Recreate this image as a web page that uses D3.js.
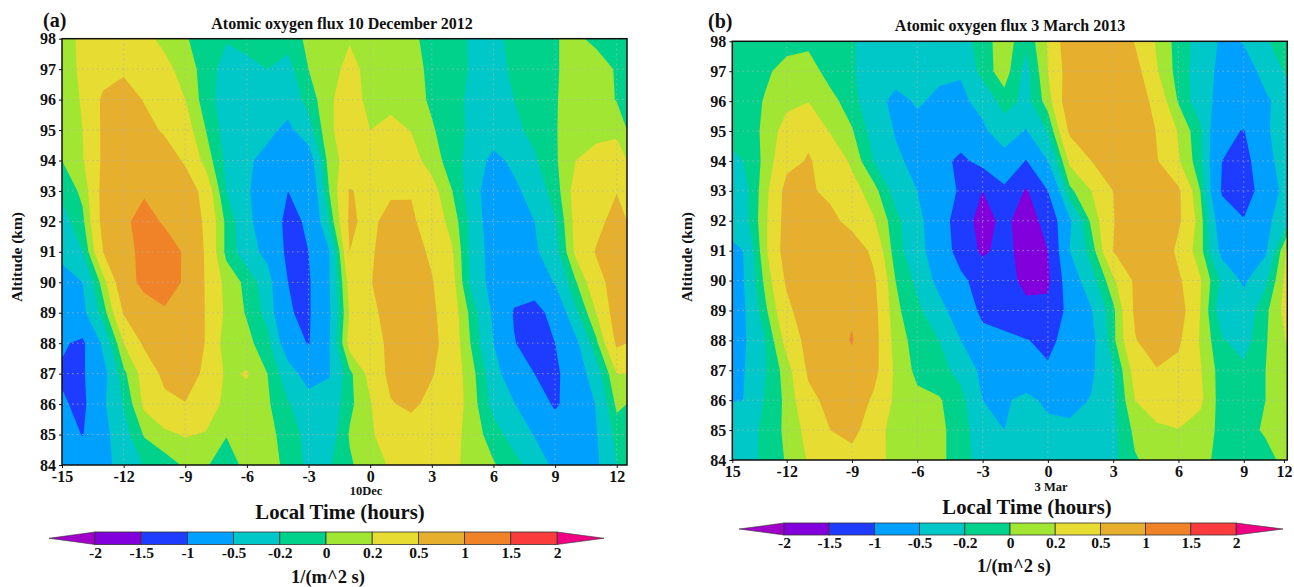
<!DOCTYPE html>
<html>
<head>
<meta charset="utf-8">
<script src="https://cdn.jsdelivr.net/npm/d3@7"></script>
<style>
  html, body { margin: 0; background: #fff; }
  svg { display: block; }
  text { font-family: "Liberation Serif", serif; font-weight: bold; fill: #111; }
  .axis path, .axis line { stroke: #111; }
  .grid line { stroke: #b4b4b4; stroke-width: 1; stroke-dasharray: 1.5 3.5; opacity: .75; }
</style>
</head>
<body>
<svg width="1294" height="587"></svg>
<script>
var levels = [-2, -1.5, -1, -0.5, -0.2, 0, 0.2, 0.5, 1, 1.5, 2];
var levelLabels = ["-2", "-1.5", "-1", "-0.5", "-0.2", "0", "0.2", "0.5", "1", "1.5", "2"];
// below -2, the 10 bands, above 2
var bandColors = ["#a000c8", "#8200dc", "#1e3cff", "#00a0ff", "#00c8c8", "#00d28c", "#a0e632", "#e6dc32", "#e6af2d", "#f08228", "#fa3c3c", "#f00082"];
var altitudes = [84, 85, 86, 87, 88, 89, 90, 91, 92, 93, 94, 95, 96, 97, 98];

// panel a, one row per altitude, one value per hour from -15 to 12
var hoursA = d3.range(-15, 13);
var a84 = [-.7,-.75,-.58,-.4,-.18,-.1,.03,.02,-.1,.06,.08,-.05,-.25,-.22,-.03,.12,.22,.3,.32,.25,.12,.02,-.12,-.3,-.58,-.7,-.55,-.2];
var a85 = [-.75,-1.02,-.6,-.3,.02,.15,.22,.18,.01,.1,.06,-.08,-.28,-.33,.02,.18,.28,.35,.38,.28,.1,-.1,-.3,-.52,-.8,-.8,-.52,-.12];
var a86 = [-.95,-1.1,-.55,-.18,.25,.42,.49,.38,.12,.12,.03,-.18,-.35,-.38,-.05,.18,.48,.56,.42,.35,.08,-.28,-.48,-.8,-1.05,-.82,-.48,.05];
var a87 = [-1.05,-1.05,-.62,-.05,.3,.58,.62,.45,.16,.22,0,-.35,-.65,-.52,-.05,.28,.58,.68,.52,.35,.05,-.35,-.75,-1,-1.1,-.7,-.32,.2];
var a88 = [-.95,-1.08,-.42,.2,.55,.8,.82,.48,.08,.06,-.12,-.72,-1.03,-.52,.3,.4,.55,.72,.58,.35,-.05,-.5,-.98,-1.18,-1,-.58,-.05,.55];
var a89 = [-.7,-.58,-.1,.52,.72,.92,.85,.48,.15,-.02,-.28,-.98,-1.05,-.55,.22,.42,.62,.75,.55,.33,-.1,-.55,-1.03,-1.2,-.8,-.25,.2,.65];
var a90 = [-.62,-.5,.1,.75,1.15,1.3,.92,.47,.12,-.05,-.35,-1,-1.05,-.52,.3,.48,.7,.72,.52,.28,-.3,-.62,-.85,-.7,-.48,-.02,.4,.62];
var a91 = [-.42,-.2,.5,.85,1.12,1.2,.95,.45,-.05,-.35,-.6,-1.1,-1,-.52,.5,.45,.68,.62,.45,.22,-.3,-.65,-.68,-.55,-.3,.25,.52,.68];
var a92 = [-.3,-.05,.6,.92,1.15,.95,.72,.45,-.05,-.4,-.75,-1.1,-.95,-.15,.55,.42,.62,.55,.35,.12,-.3,-.72,-.68,-.5,-.22,.28,.42,.6];
var a93 = [-.15,.05,.6,.9,.95,.9,.7,.38,-.2,-.45,-.75,-1,-.85,0,.52,.42,.45,.48,.3,0,-.35,-.75,-.58,-.35,-.1,.3,.4,.49];
var a94 = [0,.18,.55,.8,.85,.7,.45,.12,-.25,-.45,-.6,-.7,-.7,.1,.3,.4,.42,.3,.1,-.1,-.3,-.6,-.42,-.23,-.03,.2,.3,.35];
var a95 = [.1,.2,.55,.7,.62,.45,.32,0,-.3,-.38,-.42,-.58,-.3,.17,.3,.2,.28,.19,.02,-.1,-.26,-.32,-.25,-.14,-.01,.08,.12,.14];
var a96 = [.08,.22,.55,.65,.48,.33,.2,-.1,-.32,-.38,-.4,-.35,-.12,.17,.3,.14,.12,.08,-.03,-.12,-.26,-.3,-.2,-.1,-.01,.06,.1,-.01];
var a97 = [.08,.25,.38,.45,.42,.28,.1,-.08,-.3,-.25,-.2,-.28,0,.1,.28,.12,.12,.08,-.05,-.12,-.225,-.26,-.17,-.12,-.02,.08,.1,-.02];
var a98 = [.08,.26,.32,.32,.28,.13,.02,-.1,-.18,-.14,-.1,-.12,.05,.1,.18,.12,.1,.05,-.08,-.15,-.22,-.25,-.15,-.1,-.01,.04,-.05,-.03];

// panel b, one value per hour from -15 to 11
var hoursB = d3.range(-15, 12);
var b84 = [-.32,-.3,-.15,.02,.22,.32,.38,.3,.12,.1,.05,-.1,-.3,-.33,-.33,-.35,-.35,-.3,-.25,-.02,.08,.1,.05,-.05,-.1,-.08,.08];
var b85 = [-.35,-.32,-.15,.05,.28,.5,.6,.32,.1,.08,.05,-.1,-.35,-.5,-.38,-.4,-.42,-.4,-.25,.05,.15,.19,.1,-.05,-.08,.03,.12];
var b86 = [-.52,-.5,-.18,.05,.42,.58,.7,.45,.15,.05,.02,-.12,-.5,-.55,-.4,-.58,-.62,-.48,-.25,.2,.35,.4,.25,-.1,-.12,0,.1];
var b87 = [-.62,-.52,-.22,.1,.55,.75,.85,.6,.15,-.05,-.12,-.28,-.58,-.75,-.8,-.95,-.85,-.55,-.22,.3,.48,.42,.22,-.1,-.15,0,.15];
var b88 = [-.62,-.55,-.2,.3,.6,.78,1.03,.62,.1,-.08,-.2,-.5,-.85,-.88,-.98,-1.1,-.85,-.6,-.05,.48,.7,.55,.18,-.18,-.3,-.02,.22];
var b89 = [-.65,-.55,-.05,.42,.7,.8,.95,.6,.05,-.15,-.38,-.7,-1.1,-1.25,-1.4,-1.4,-.85,-.52,-.05,.55,.8,.65,.2,-.35,-.38,-.05,.3];
var b90 = [-.65,-.52,.05,.55,.78,.85,.85,.55,0,-.25,-.6,-.9,-1.2,-1.35,-1.6,-1.58,-.7,-.3,.15,.55,.8,.55,.22,-.25,-.55,-.25,.3];
var b91 = [-.65,-.5,.15,.65,.8,.8,.72,.42,-.1,-.38,-.7,-1.2,-1.58,-1.35,-1.7,-1.5,-.5,-.1,.5,.72,.8,.42,.08,-.6,-.85,-.55,.25];
var b92 = [-.42,-.32,.15,.62,.85,.6,.38,.22,-.12,-.42,-.7,-1.3,-1.65,-1.4,-1.7,-1.35,-.55,.05,.48,.8,.85,.55,.1,-.75,-.98,-.6,-.25];
var b93 = [-.35,-.3,.12,.6,.55,.42,.3,.08,-.3,-.5,-.8,-1.05,-1.5,-1.1,-1.55,-1,-.05,.2,.5,.75,.8,.55,0,-1.05,-1.2,-.8,-.32];
var b94 = [-.35,-.2,.05,.42,.52,.4,.15,-.2,-.45,-.58,-.85,-1.1,-.85,-.62,-1.02,-.5,.25,.5,.8,.9,.52,.22,-.12,-1,-1.15,-.7,-.2];
var b95 = [-.15,-.15,.05,.3,.45,.18,.02,-.3,-.52,-.58,-.62,-.75,-.55,-.35,-.52,-.18,.55,.85,.9,.85,.48,.18,-.15,-.9,-1.02,-.55,-.3];
var b96 = [-.15,-.15,.02,.14,.19,.08,-.12,-.38,-.58,-.47,-.55,-.55,-.42,-.08,-.28,.1,.72,.9,.92,.72,.38,-.02,-.35,-.62,-.7,-.55,-.35];
var b97 = [-.12,-.12,-.05,.1,.12,-.1,-.17,-.35,-.38,-.42,-.45,-.48,-.1,.1,-.28,.2,.65,.82,.85,.62,.22,-.08,-.32,-.6,-.65,-.4,-.15];
var b98 = [-.1,-.1,-.1,-.1,-.06,-.12,-.18,-.3,-.35,-.38,-.38,-.3,-.1,.12,-.15,.22,.72,.8,.75,.48,.17,-.08,-.3,-.55,-.48,-.22,-.1];

var fluxA = [a84, a85, a86, a87, a88, a89, a90, a91, a92, a93, a94, a95, a96, a97, a98];
var fluxB = [b84, b85, b86, b87, b88, b89, b90, b91, b92, b93, b94, b95, b96, b97, b98];

var tickHoursA = [-15, -12, -9, -6, -3, 0, 3, 6, 9, 12];
var tickLabelsA = ["-15", "-12", "-9", "-6", "-3", "0", "3", "6", "9", "12"];
var tickHoursB = [-14.5, -12, -9, -6, -3, 0, 3, 6, 9, 10.85];
var tickLabelsB = ["15", "-12", "-9", "-6", "-3", "0", "3", "6", "9", "12"];

var svg = d3.select("svg");

function drawPanel(p) {
  var x = d3.scaleLinear().domain(p.domain).range([p.left, p.right]);
  var y = d3.scaleLinear().domain([84, 98]).range([p.bottom, p.top]);
  var g = svg.append("g");

  g.append("clipPath").attr("id", p.id + "-clip")
    .append("rect")
      .attr("x", p.left).attr("y", p.top)
      .attr("width", p.right - p.left).attr("height", p.bottom - p.top);

  // d3.contours puts grid point i at i + 0.5
  var nx = p.hours.length, ny = altitudes.length;
  var contours = d3.contours().size([nx, ny]).smooth(true).thresholds(levels)(d3.merge(p.flux));
  var toPage = d3.geoTransform({
    point: function(u, v) {
      this.stream.point(x(p.hours[0] + u - 0.5), y(altitudes[0] + v - 0.5));
    }
  });
  var path = d3.geoPath(toPage);

  var plot = g.append("g").attr("clip-path", "url(#" + p.id + "-clip)");
  plot.append("rect")
    .attr("x", p.left).attr("y", p.top)
    .attr("width", p.right - p.left).attr("height", p.bottom - p.top)
    .attr("fill", bandColors[0]);
  plot.selectAll("path")
    .data(contours)
    .enter().append("path")
      .attr("d", path)
      .attr("fill", function(d, i) { return bandColors[i + 1]; });

  // dotted grid
  var grid = g.append("g").attr("class", "grid");
  grid.selectAll(".v")
    .data(p.tickHours.slice(1))
    .enter().append("line")
      .attr("x1", function(d) { return x(d); }).attr("x2", function(d) { return x(d); })
      .attr("y1", p.top).attr("y2", p.bottom);
  grid.selectAll(".h")
    .data(altitudes.slice(1, -1))
    .enter().append("line")
      .attr("x1", p.left).attr("x2", p.right)
      .attr("y1", function(d) { return y(d); }).attr("y2", function(d) { return y(d); });

  g.append("rect")
    .attr("x", p.left).attr("y", p.top)
    .attr("width", p.right - p.left).attr("height", p.bottom - p.top)
    .attr("fill", "none").attr("stroke", "#111").attr("stroke-width", 1.5);

  var xAxis = g.append("g").attr("class", "axis")
    .attr("transform", "translate(0," + p.bottom + ")")
    .call(d3.axisBottom(x).tickValues(p.tickHours).tickSizeInner(3).tickSizeOuter(0)
      .tickFormat(function(d, i) { return p.tickLabels[i]; }));
  xAxis.select(".domain").remove();
  xAxis.selectAll("text").attr("font-size", 16).attr("y", 6).attr("dy", "0.71em").style("font-family", null);

  var yAxis = g.append("g").attr("class", "axis")
    .attr("transform", "translate(" + p.left + ",0)")
    .call(d3.axisLeft(y).tickValues(altitudes).tickSizeInner(3).tickSizeOuter(0).tickFormat(d3.format("d")));
  yAxis.select(".domain").remove();
  yAxis.selectAll("text").attr("font-size", 16);

  function label(tx, ty, size, str, anchor) {
    return g.append("text").attr("x", tx).attr("y", ty)
      .attr("font-size", size).attr("text-anchor", anchor || "middle").text(str);
  }
  label(p.tagX, p.tagY, 20, p.tag, "start");
  label(p.titleX, p.titleY, 16, p.title);
  label(p.dayX, p.dayY, 12.5, p.day);
  label(p.xTitleX, p.xTitleY, 20.7, "Local Time (hours)");
  label(p.unitX, p.unitY, 18.5, "1/(m^2 s)");
  g.append("text")
    .attr("transform", "translate(" + p.yTitleX + "," + p.yTitleY + ") rotate(-90)")
    .attr("font-size", 15.5).attr("text-anchor", "middle").text("Altitude (km)");

  // colour bar with pointed ends
  var cb = d3.scaleLinear().domain([0, levels.length - 1]).range([p.barLeft, p.barRight]);
  var bar = g.append("g");
  var mid = (p.barTop + p.barBottom) / 2;
  bar.append("path")
    .attr("d", "M" + cb(0) + "," + p.barTop + "L" + p.tipLeft + "," + mid + "L" + cb(0) + "," + p.barBottom + "Z")
    .attr("fill", bandColors[0]).attr("stroke", "#333").attr("stroke-width", 0.6);
  bar.append("path")
    .attr("d", "M" + cb(10) + "," + p.barTop + "L" + p.tipRight + "," + mid + "L" + cb(10) + "," + p.barBottom + "Z")
    .attr("fill", bandColors[11]).attr("stroke", "#333").attr("stroke-width", 0.6);
  bar.selectAll("rect")
    .data(d3.range(levels.length - 1))
    .enter().append("rect")
      .attr("x", function(d) { return cb(d); })
      .attr("y", p.barTop)
      .attr("width", function(d) { return cb(d + 1) - cb(d); })
      .attr("height", p.barBottom - p.barTop)
      .attr("fill", function(d) { return bandColors[d + 1]; })
      .attr("stroke", "#333").attr("stroke-width", 0.8);
  var barAxis = bar.append("g").attr("class", "axis")
    .attr("transform", "translate(0," + p.barBottom + ")")
    .call(d3.axisBottom(cb).tickValues(d3.range(levels.length)).tickSize(0)
      .tickFormat(function(d) { return levelLabels[d]; }));
  barAxis.select(".domain").remove();
  barAxis.selectAll("text").attr("font-size", 15.5).attr("y", 2).attr("dy", "0.71em");
}

drawPanel({
  id: "a", tag: "(a)", title: "Atomic oxygen flux 10 December 2012", day: "10Dec",
  flux: fluxA, hours: hoursA, domain: [-15, 12.5],
  tickHours: tickHoursA, tickLabels: tickLabelsA,
  left: 62, right: 627, top: 38.7, bottom: 465,
  tagX: 43, tagY: 27, titleX: 342, titleY: 29, dayX: 366, dayY: 495,
  xTitleX: 340, xTitleY: 519, unitX: 328, unitY: 583, yTitleX: 22, yTitleY: 257,
  barLeft: 95, barRight: 557, barTop: 532, barBottom: 544.5, tipLeft: 49, tipRight: 604
});

drawPanel({
  id: "b", tag: "(b)", title: "Atomic oxygen flux 3 March 2013", day: "3 Mar",
  flux: fluxB, hours: hoursB, domain: [-14.5, 11],
  tickHours: tickHoursB, tickLabels: tickLabelsB,
  left: 732.3, right: 1287.3, top: 41.3, bottom: 460,
  tagX: 708, tagY: 28, titleX: 1010, titleY: 31, dayX: 1051, dayY: 491,
  xTitleX: 1027, xTitleY: 514, unitX: 1014, unitY: 572, yTitleX: 692, yTitleY: 257,
  barLeft: 784, barRight: 1236, barTop: 523, barBottom: 535, tipLeft: 739, tipRight: 1283
});
</script>
</body>
</html>
